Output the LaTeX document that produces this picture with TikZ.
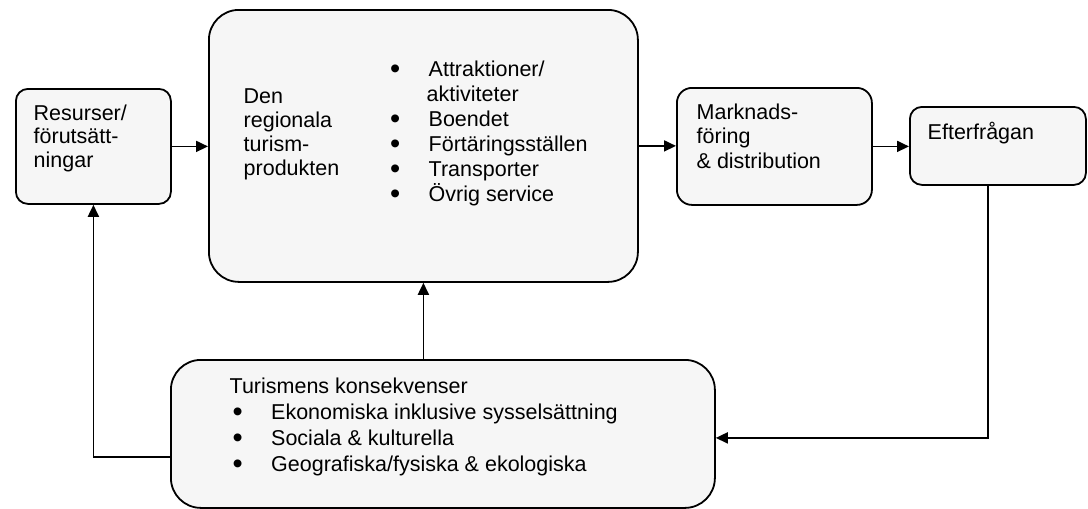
\documentclass[tikz,border=0pt]{standalone}
\usepackage{fontspec}
\setmainfont{Liberation Sans}
\usetikzlibrary{arrows.meta}

\definecolor{boxgray}{HTML}{F6F6F6}
\tikzset{
  box/.style={draw, fill=boxgray, line width=1.8pt, inner sep=0pt, anchor=north west},
  txt/.style={anchor=base west, align=left, inner sep=0pt, font=\fontsize{21.5}{#1}\selectfont},
  txt/.default=25,
  link/.style={line width=1.8pt, ->},
}
\newcommand{\blt}{\makebox[38.5pt][l]{\raisebox{-2pt}{\scalebox{1.35}{\textbullet}}}}

\begin{document}
\begin{tikzpicture}[>={Triangle[length=12pt,width=11pt]}, x=1pt, y=-1pt]
\useasboundingbox (0,0) rectangle (1088,509);

% boxes
\node[box, rounded corners=12pt, minimum width=155pt, minimum height=115pt] (res) at (15,88) {};
\node[box, rounded corners=30pt, minimum width=429pt, minimum height=272pt] (prod) at (208,9) {};
\node[box, rounded corners=15pt, minimum width=195pt, minimum height=117pt] (mark) at (676,87) {};
\node[box, rounded corners=12pt, minimum width=176pt, minimum height=78pt] (eft) at (909,106) {};
\node[box, rounded corners=30pt, minimum width=544pt, minimum height=148pt] (kons) at (170,359) {};

% texts (anchored at the baseline of the last line)
\node[txt=23.5] (res-t) at (33.5,167) {Resurser/\\förutsätt-\\ningar};
\node[txt=23.8] (prod-t) at (243.5,175) {Den\\regionala\\turism-\\produkten};
\node[txt=25] (prod-l) at (390,201.5) {\blt Attraktioner/\\\hspace*{36.5pt}aktiviteter\\\blt Boendet\\\blt Förtäringsställen\\\blt Transporter\\\blt Övrig service};
\node[txt=24.5] (mark-t) at (696.5,168) {Marknads-\\föring\\\& distribution};
\node[txt] (eft-t) at (927.5,139.5) {Efterfrågan};
\node[txt=26] (kons-t) at (229.5,471) {Turismens konsekvenser\\\hspace*{3pt}\blt Ekonomiska inklusive sysselsättning\\\hspace*{3pt}\blt Sociala \& kulturella\\\hspace*{3pt}\blt Geografiska/fysiska \& ekologiska};

% arrows
\draw[link] (res.east) -- (res.east -| prod.west);
\draw[link] (prod.east) -- (prod.east -| mark.west);
\draw[link] (mark.east) -- (mark.east -| eft.west);
\draw[link] ([xshift=-10pt]eft.south) |- ([yshift=-4pt]kons.east); %feedback
\draw[link] (kons.north -| prod.south) -- (prod.south);
\draw[link] ([yshift=-23pt]kons.west) -| (res.south);

\end{tikzpicture}
\end{document}
